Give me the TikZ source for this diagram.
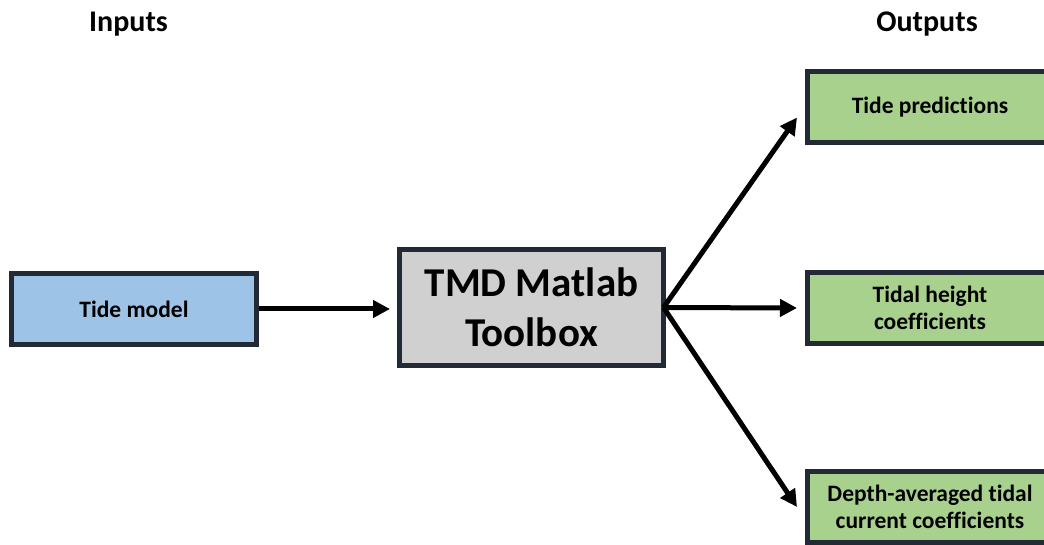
\documentclass[tikz,border=0pt]{standalone}
\usepackage{fontspec}
\setmainfont{Carlito}[Ligatures=NoCommon]
\usetikzlibrary{arrows.meta}
\definecolor{edge}{HTML}{222A35}
\definecolor{inblue}{HTML}{9DC3E6}
\definecolor{outgreen}{HTML}{A9D18E}
\definecolor{toolgray}{HTML}{D0D0D0}
\begin{document}
\begin{tikzpicture}[x=1pt,y=-1pt,
  box/.style={draw=edge, line width=5pt, minimum width=245pt, minimum height=71pt,
    align=center, inner sep=0pt, font=\fontsize{23.5}{27.5}\selectfont\bfseries},
  heading/.style={anchor=base, inner sep=0pt, font=\fontsize{30}{36}\selectfont\bfseries},
  conn/.style={line width=5pt, -{Triangle[length=17pt,width=17pt]}}]
\useasboundingbox (0,0) rectangle (1044,545);
\clip (0,0) rectangle (1044,545);
\node[heading] (hin) at (128.5,32) {Inputs};
\node[heading] (hout) at (927,32) {Outputs};
\node[box, fill=inblue] (tm) at (134,309) {Tide model};
\node[box, fill=toolgray, minimum width=264pt, minimum height=116pt,
  font=\fontsize{41}{50}\selectfont\bfseries] (tb) at (531.5,307.5) {TMD Matlab\\Toolbox};
\node[box, fill=outgreen] (o1) at (930,107.5) {Tide predictions};
\node[box, fill=outgreen] (o2) at (930,308) {Tidal height\\coefficients};
\node[box, fill=outgreen] (o3) at (930,507) {Depth-averaged tidal\\current coefficients};
\draw[conn] (tm.east) -- ([xshift=-7pt]tb.west |- tm.east);
\draw[conn] ([xshift=-2.5pt]tb.east) -- ([xshift=-8pt,yshift=-10pt]o1.west);
\draw[conn] ([xshift=-2.5pt]tb.east) -- ([xshift=-8pt]o2.west);
\draw[conn] ([xshift=-2.5pt]tb.east) -- ([xshift=-8pt]o3.west);
\end{tikzpicture}
\end{document}
